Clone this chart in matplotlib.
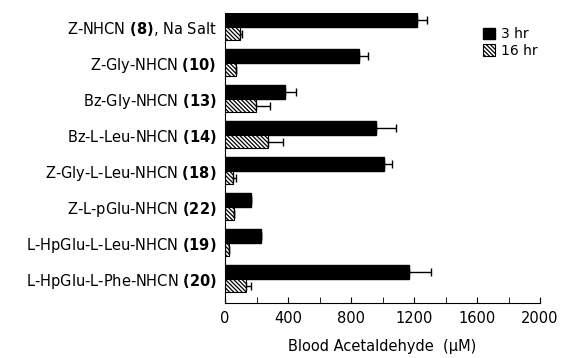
import matplotlib
matplotlib.use("Agg")
import matplotlib.pyplot as plt
import numpy as np

plt.rcParams['font.family'] = ['DejaVu Sans']
plt.rcParams['mathtext.fontset'] = 'dejavusans'
plt.rcParams['hatch.linewidth'] = 0.9

compounds = [
    r"Z-NHCN $\mathbf{(8)}$, Na Salt",
    r"Z-Gly-NHCN $\mathbf{(10)}$",
    r"Bz-Gly-NHCN $\mathbf{(13)}$",
    r"Bz-L-Leu-NHCN $\mathbf{(14)}$",
    r"Z-Gly-L-Leu-NHCN $\mathbf{(18)}$",
    r"Z-L-pGlu-NHCN $\mathbf{(22)}$",
    r"L-HpGlu-L-Leu-NHCN $\mathbf{(19)}$",
    r"L-HpGlu-L-Phe-NHCN $\mathbf{(20)}$",
]
vals_3hr = [1220, 850, 380, 960, 1010, 163, 226, 1170]
err_3hr = [65, 57, 70, 127, 50, 0, 0, 135]
vals_16hr = [95, 70, 195, 270, 50, 57, 27, 135]
err_16hr = [15, 0, 90, 97, 22, 0, 0, 30]
xticks = [0, 400, 800, 1200, 1600, 2000]

fig = plt.figure(figsize=(5.63, 3.58), dpi=100)
ax = fig.add_axes([225/563, 1-303/358, 315/563, 290/358])

y = np.arange(len(compounds))
h = 0.38
ax.barh(y - h/2, vals_3hr, height=h, color='black', edgecolor='black',
        label='3 hr')
ax.errorbar(vals_3hr, y - h/2, xerr=[np.zeros(len(err_3hr)), err_3hr],
            fmt='none', ecolor='black', elinewidth=1, capsize=3, capthick=1)
ax.barh(y + h/2, vals_16hr, height=h, color='white', edgecolor='black',
        hatch='\\' * 8, linewidth=0.8, label='16 hr')
ax.errorbar(vals_16hr, y + h/2, xerr=[np.zeros(len(err_16hr)), err_16hr],
            fmt='none', ecolor='black', elinewidth=1, capsize=3, capthick=1)

ax.set_ylim(len(compounds) - 1 + 0.675, -0.38)
ax.set_xlim(0, 2000)
ax.set_yticks(y)
ax.set_yticklabels(compounds, fontsize=10.5)
ax.tick_params(axis='y', length=0, pad=6)
ax.set_xticks(xticks)
ax.set_xticks(np.arange(0, 2001, 200), minor=True)
ax.tick_params(axis='x', which='both', direction='in', length=4, labelsize=10.5, pad=6)
ax.spines['top'].set_visible(False)
ax.spines['right'].set_visible(False)
ax.set_xlabel('Blood Acetaldehyde  (μM)', fontsize=10.5, labelpad=9)

leg = ax.legend(loc='upper left', bbox_to_anchor=(0.8, 0.97), frameon=False,
                fontsize=10, handlelength=0.9, handleheight=0.9,
                handletextpad=0.4, labelspacing=0.2, borderaxespad=0)

fig.savefig('out.png', dpi=100)
